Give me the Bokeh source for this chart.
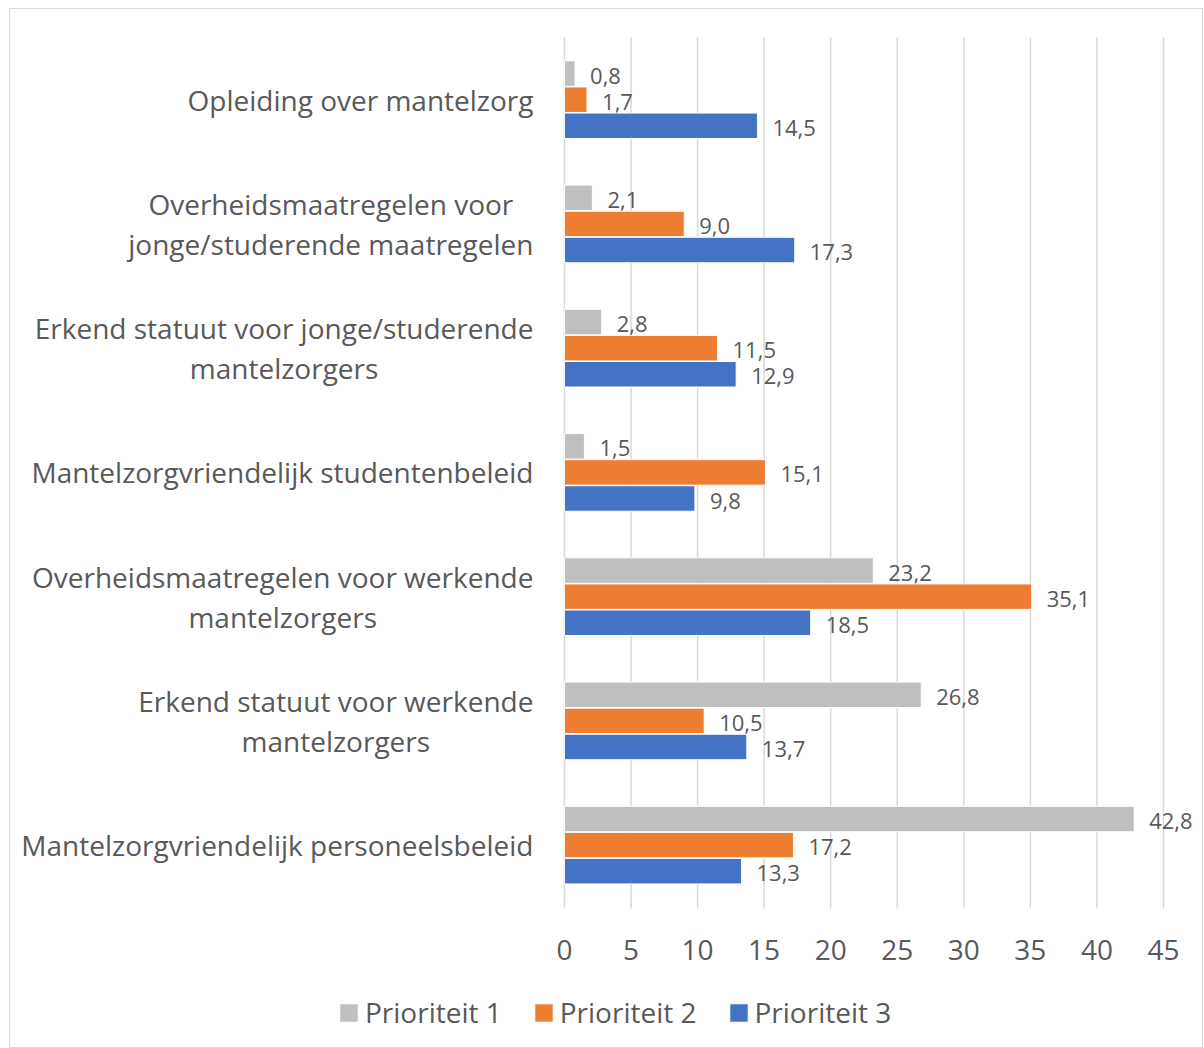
from bokeh.plotting import figure
from bokeh.models import ColumnDataSource, Range1d, Legend, LegendItem
from bokeh.core.properties import value
from bokeh.embed import file_html
from bokeh.resources import INLINE

# ---- data ----
categories = [
    "Opleiding over mantelzorg",
    "Overheidsmaatregelen voor\njonge/studerende maatregelen",
    "Erkend statuut voor jonge/studerende\nmantelzorgers",
    "Mantelzorgvriendelijk studentenbeleid",
    "Overheidsmaatregelen voor werkende\nmantelzorgers",
    "Erkend statuut voor werkende\nmantelzorgers",
    "Mantelzorgvriendelijk personeelsbeleid",
]
prioriteit_1 = [0.8, 2.1, 2.8, 1.5, 23.2, 26.8, 42.8]
prioriteit_2 = [1.7, 9.0, 11.5, 15.1, 35.1, 10.5, 17.2]
prioriteit_3 = [14.5, 17.3, 12.9, 9.8, 18.5, 13.7, 13.3]
series_names = ["Prioriteit 1", "Prioriteit 2", "Prioriteit 3"]
x_ticks = [0, 5, 10, 15, 20, 25, 30, 35, 40, 45]

# ---- style ----
FONT = "Open Sans"
TXT = "#595959"
GRID = "#d9d9d9"
colors = ["#bfbfbf", "#ed7d31", "#4472c4"]
dodges = [-0.21, 0.0, 0.21]   # grey on top, then orange, then blue
bar_h = 0.205

def fmt(v):
    return f"{v:.1f}".replace(".", ",")

n = len(categories)
pos = list(range(n))  # category band index, 0 = top

# frame spans the whole canvas; scales map value 0 -> ~565px, 45 -> ~1163px
p = figure(
    width=1194, height=1040,
    x_range=Range1d(-41.61, 48.08),
    y_range=Range1d(7.645, -0.726),
    x_axis_type=None, y_axis_type=None,
    output_backend="svg", toolbar_location=None,
    min_border=0, min_border_left=0, min_border_right=0, min_border_top=0, min_border_bottom=0,
    styles={"border": "1px solid #d9d9d9", "box-sizing": "border-box",
            "margin-left": "9px", "margin-top": "8px"},
)
p.outline_line_color = None
p.background_fill_color = "white"
p.border_fill_color = "white"
p.grid.visible = False

# vertical gridlines at the value ticks
p.segment(x0=x_ticks, x1=x_ticks, y0=[-0.5] * len(x_ticks), y1=[n - 0.5 + 0.01] * len(x_ticks),
          line_color=GRID, line_width=1.5)

# tick labels
p.text(x=x_ticks, y=[n - 0.5] * len(x_ticks), text=[str(t) for t in x_ticks],
       y_offset=43, text_align="center", text_baseline="middle",
       text_font=value(FONT), text_font_size="28px", text_color=TXT)

# category labels (block right-aligned, lines centred)
p.text(x=[0] * n, y=pos, text=categories, x_offset=-31,
       anchor="center_right", text_align="center", text_baseline="middle",
       text_line_height=1.05,
       text_font=value(FONT), text_font_size="28px", text_color=TXT)

items = []
for name, vals, col, dg in zip(series_names, [prioriteit_1, prioriteit_2, prioriteit_3], colors, dodges):
    src = ColumnDataSource(dict(y=[i + dg for i in pos], val=vals, lab=[fmt(v) for v in vals]))
    r = p.hbar(y="y", right="val", left=0, height=bar_h,
               source=src, fill_color=col, line_color="white", line_width=1)
    p.text(x="val", y="y", text="lab", source=src,
           x_offset=15, y_offset=2, text_align="left", text_baseline="middle",
           text_font=value(FONT), text_font_size="22px", text_color=TXT)
    items.append(LegendItem(label=name, renderers=[r]))

legend = Legend(items=items, location=(327, 18), orientation="horizontal",
                glyph_width=23, glyph_height=23, label_standoff=5, spacing=30,
                padding=0, margin=0, border_line_color=None, background_fill_alpha=0,
                label_text_font=FONT, label_text_font_size="28px", label_text_color=TXT)
p.add_layout(legend, "center")

open("out.html", "w").write(file_html(p, INLINE))
